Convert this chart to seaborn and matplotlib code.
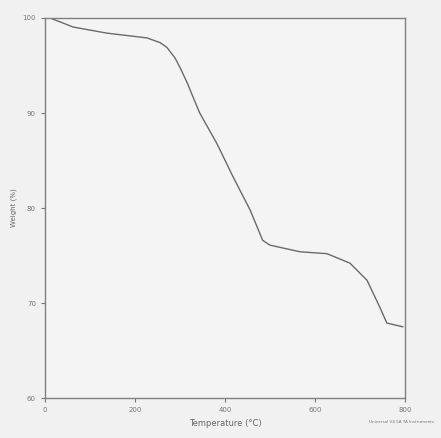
import matplotlib
matplotlib.use("Agg")
import matplotlib.pyplot as plt
import seaborn as sns
import pandas as pd

# TGA curve
temperature = [16, 33, 62, 138, 227, 256, 271, 289, 300, 316, 329, 344, 382, 418, 456,
               484, 500, 567, 627, 678, 716, 744, 760, 796]
weight = [99.9, 99.6, 99.05, 98.4, 97.9, 97.4, 96.9, 95.8, 94.8, 93.2, 91.7, 90.0, 86.8,
          83.3, 79.8, 76.6, 76.1, 75.4, 75.2, 74.2, 72.4, 69.6, 67.9, 67.5]
x_ticks = [0, 200, 400, 600, 800]
y_ticks = [60, 70, 80, 90, 100]

df = pd.DataFrame({"Temperature": temperature, "Weight": weight})

sns.set_style("ticks")
plt.rcParams["font.family"] = ["DejaVu Sans"]

fig = plt.figure(figsize=(4.41, 4.38), dpi=100, facecolor="#f1f1f1")
ax = fig.add_axes([0.102, 0.091, 0.816, 0.868])
ax.set_facecolor("#f4f4f4")

sns.lineplot(data=df, x="Temperature", y="Weight", ax=ax, color="#6a6a6a", linewidth=1.0)

ax.set_xlim(0, 800)
ax.set_ylim(60, 100)
ax.set_xticks(x_ticks)
ax.set_yticks(y_ticks)
ax.tick_params(labelsize=5, colors="#777777", length=3, width=0.8)
for s in ax.spines.values():
    s.set_color("#808080")
    s.set_linewidth(1.0)
ax.set_xlabel("Temperature (°C)", fontsize=6, color="#666666")
ax.set_ylabel("Weight (%)", fontsize=5, color="#666666")

fig.text(0.985, 0.035, "Universal V4.5A TA Instruments", fontsize=3, color="#777777", ha="right")

fig.savefig("out.png", dpi=100, facecolor=fig.get_facecolor())
